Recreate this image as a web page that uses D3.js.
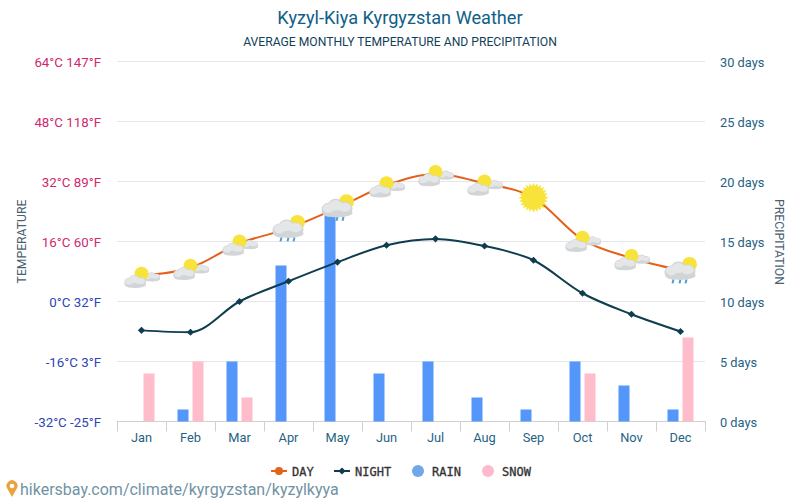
<!DOCTYPE html>
<html>
<head>
<meta charset="utf-8">
<script src="https://cdn.jsdelivr.net/npm/d3@7"></script>
<style>
  html, body { margin: 0; padding: 0; background: #fff; }
  svg { display: block; font-family: Roboto, sans-serif; }
</style>
</head>
<body>
<svg id="chart" width="800" height="500"></svg>
<script>
const months = ['Jan', 'Feb', 'Mar', 'Apr', 'May', 'Jun', 'Jul', 'Aug', 'Sep', 'Oct', 'Nov', 'Dec'];
const dayTemp = [6.9, 9, 15.5, 19.5, 25, 31, 34, 31.5, 27.7, 16.5, 11.6, 8.3];
const nightTemp = [-7.7, -8.2, 0, 5.4, 10.5, 15, 16.7, 14.8, 11, 2.2, -3.4, -8];
const rainDays = [0, 1, 5, 13, 18, 4, 5, 2, 1, 5, 3, 1];
const snowDays = [4, 5, 2, 0, 0, 0, 0, 0, 0, 4, 0, 7];
const icons = ['partly', 'partly', 'partly', 'rain', 'rain', 'partly', 'partly', 'partly', 'sun', 'partly', 'partly', 'rain'];
const tempTicks = [-32, -16, 0, 16, 32, 48, 64];
const tempLabels = ['-32°C -25°F', '-16°C 3°F', '0°C 32°F', '16°C 60°F', '32°C 89°F', '48°C 118°F', '64°C 147°F'];
const dayTicks = [0, 5, 10, 15, 20, 25, 30];
const legendItems = ['DAY', 'NIGHT', 'RAIN', 'SNOW'];

const svg = d3.select('#chart');
const plotLeft = 117, plotRight = 705, plotTop = 61.5, plotBottom = 421.5;

const x = d3.scaleBand().domain(months).range([plotLeft, plotRight]);
const yTemp = d3.scaleLinear().domain([-32, 64]).range([plotBottom, plotTop]);
const yDays = d3.scaleLinear().domain([0, 30]).range([plotBottom, plotTop]);

// titles
svg.append('text').attr('x', 400).attr('y', 23.5).attr('text-anchor', 'middle')
  .attr('font-size', 18.15).attr('fill', '#0f6088').text('Kyzyl-Kiya Kyrgyzstan Weather');
svg.append('text').attr('x', 400).attr('y', 46).attr('text-anchor', 'middle')
  .attr('font-size', 12.15).attr('fill', '#123f5a').text('AVERAGE MONTHLY TEMPERATURE AND PRECIPITATION');

// grid
svg.append('g').selectAll('line').data(dayTicks.slice(1)).join('line')
  .attr('x1', plotLeft).attr('x2', plotRight)
  .attr('y1', d => yDays(d)).attr('y2', d => yDays(d))
  .attr('stroke', '#e6e6e6');

// axes
const leftAxis = svg.append('g').attr('transform', `translate(${plotLeft},0.5)`)
  .call(d3.axisLeft(yTemp).tickValues(tempTicks).tickSize(0).tickPadding(16)
    .tickFormat((d, i) => tempLabels[i]));
leftAxis.select('.domain').remove();
leftAxis.selectAll('text')
  .attr('font-family', 'Roboto, sans-serif').attr('font-size', 13.3)
  .attr('fill', d => d > 0 ? '#d0286f' : '#2f45b5');

const rightAxis = svg.append('g').attr('transform', `translate(${plotRight},0.5)`)
  .call(d3.axisRight(yDays).tickValues(dayTicks).tickSize(0).tickPadding(15)
    .tickFormat(d => d + ' days'));
rightAxis.select('.domain').remove();
rightAxis.selectAll('text')
  .attr('font-family', 'Roboto, sans-serif').attr('font-size', 12.8).attr('fill', '#1f6284');

const bottomAxis = svg.append('g').attr('transform', `translate(0,${plotBottom + 1})`)
  .call(d3.axisBottom(x).tickSize(0).tickPadding(10));
bottomAxis.select('.domain').remove();
bottomAxis.selectAll('text')
  .attr('font-family', 'Roboto, sans-serif').attr('font-size', 12.8).attr('fill', '#1f6284');

// month separators
const edges = months.map(m => x(m)).concat(plotRight);
svg.append('g').selectAll('line').data(edges).join('line')
  .attr('x1', d => d + 0.5).attr('x2', d => d + 0.5)
  .attr('y1', plotBottom).attr('y2', plotBottom + 10).attr('stroke', '#d0d0d0');
svg.append('line').attr('x1', plotLeft).attr('x2', plotRight + 1)
  .attr('y1', plotBottom).attr('y2', plotBottom).attr('stroke', '#d0d0d0');

// axis titles
svg.append('text').attr('transform', 'translate(25.5,241.5) rotate(-90)').attr('text-anchor', 'middle')
  .attr('font-size', 12.2).attr('fill', '#4a5f70').text('TEMPERATURE');
svg.append('text').attr('transform', 'translate(774.5,242) rotate(90)').attr('text-anchor', 'middle')
  .attr('font-size', 12.2).attr('fill', '#4a5f70').text('PRECIPITATION');

// bars
const barWidth = 11;
const bandMid = m => x(m) + x.bandwidth() / 2;
svg.append('g').selectAll('rect').data(months).join('rect')
  .attr('x', d => bandMid(d) - 13)
  .attr('y', (d, i) => yDays(rainDays[i]))
  .attr('width', barWidth)
  .attr('height', (d, i) => plotBottom - yDays(rainDays[i]))
  .attr('fill', '#5596fb');
svg.append('g').selectAll('rect').data(months).join('rect')
  .attr('x', d => bandMid(d) + 2)
  .attr('y', (d, i) => yDays(snowDays[i]))
  .attr('width', barWidth)
  .attr('height', (d, i) => plotBottom - yDays(snowDays[i]))
  .attr('fill', '#ffbccb');

// lines
const tempLine = d3.line()
  .x((d, i) => bandMid(months[i]))
  .y(d => yTemp(d))
  .curve(d3.curveMonotoneX);
svg.append('path').attr('d', tempLine(dayTemp)).attr('fill', 'none')
  .attr('stroke', '#e4611b').attr('stroke-width', 2);
svg.append('path').attr('d', tempLine(nightTemp)).attr('fill', 'none')
  .attr('stroke', '#0d3d4f').attr('stroke-width', 2);
const diamond = d3.symbol().type(d3.symbolSquare).size(26);
svg.append('g').selectAll('path').data(nightTemp).join('path')
  .attr('d', diamond)
  .attr('transform', (d, i) => `translate(${bandMid(months[i])},${yTemp(d)}) rotate(45)`)
  .attr('fill', '#0d3d4f');

// weather icons on day points
function cloud(g, cx, cy, s) {
  const puffs = [[-9, 0, 7, 7], [-2, -3, 8, 8], [7, -1, 8, 7], [0, 3, 15, 4.5]];
  g.selectAll(null).data(puffs).join('ellipse')
    .attr('cx', p => cx + p[0] * s).attr('cy', p => cy + p[1] * s)
    .attr('rx', p => p[2] * s).attr('ry', p => p[3] * s)
    .attr('fill', '#d2d5d7');
  g.selectAll(null).data(puffs.slice(0, 3)).join('ellipse')
    .attr('cx', p => cx + p[0] * s).attr('cy', p => cy + (p[1] - 1.5) * s)
    .attr('rx', p => p[2] * s * 0.8).attr('ry', p => p[3] * s * 0.65)
    .attr('fill', '#e4e6e7');
}
function sunDisc(g, cx, cy, r) {
  g.append('circle').attr('cx', cx).attr('cy', cy).attr('r', r).attr('fill', '#f7e33a');
}
const iconG = svg.append('g');
icons.forEach((kind, i) => {
  const px = bandMid(months[i]), py = yTemp(dayTemp[i]);
  const g = iconG.append('g');
  if (kind === 'sun') {
    const rays = d3.range(48).map(k => [k * Math.PI / 24, k % 2 ? 11.5 : 15]);
    g.append('path')
      .attr('d', d3.lineRadial().curve(d3.curveLinearClosed)(rays))
      .attr('transform', `translate(${px},${py})`)
      .attr('fill', '#f7e33a');
  } else if (kind === 'partly') {
    cloud(g, px + 11, py + 2, 0.5);
    sunDisc(g, px, py - 2, 7);
    cloud(g, px - 6, py + 7, 0.7);
  } else {
    sunDisc(g, px + 9, py - 6, 7.5);
    const drops = [-7, 0, 6];
    g.selectAll('line').data(drops).join('line')
      .attr('x1', d => px + d).attr('x2', d => px + d - 1)
      .attr('y1', py + 9).attr('y2', py + 13)
      .attr('stroke', '#4f9fd0').attr('stroke-width', 2);
    cloud(g, px, py + 2, 1);
  }
});

// legend
const legend = svg.append('g').attr('font-family', "'DejaVu Sans Mono', monospace")
  .attr('font-size', 12).attr('fill', '#333').attr('stroke', '#333').attr('stroke-width', 0.3);
const legendX = [292, 355, 432, 502];
legend.selectAll('text').data(legendItems).join('text')
  .attr('x', (d, i) => legendX[i]).attr('y', 475.5)
  .text(d => d);
legend.append('line').attr('x1', 271).attr('x2', 287).attr('y1', 471).attr('y2', 471)
  .attr('stroke', '#e4611b').attr('stroke-width', 2);
legend.append('circle').attr('cx', 279).attr('cy', 471).attr('r', 4).attr('fill', '#e4611b').attr('stroke', 'none');
legend.append('line').attr('x1', 334).attr('x2', 350).attr('y1', 471).attr('y2', 471)
  .attr('stroke', '#0d3d4f').attr('stroke-width', 2);
legend.append('path').attr('d', diamond).attr('transform', 'translate(342,471) rotate(45)').attr('fill', '#0d3d4f').attr('stroke', 'none');
legend.append('circle').attr('cx', 418).attr('cy', 471).attr('r', 6).attr('fill', '#6ea8ea').attr('stroke', 'none');
legend.append('circle').attr('cx', 488).attr('cy', 471).attr('r', 6).attr('fill', '#ffb9cc').attr('stroke', 'none');

// watermark
svg.append('path')
  .attr('d', 'M12 497 L7.5 489 A5.5 5.5 0 1 1 16.5 489 Z')
  .attr('fill', '#e8a33d');
svg.append('circle').attr('cx', 12).attr('cy', 486).attr('r', 2.3).attr('fill', '#fff');
svg.append('text').attr('x', 20).attr('y', 495).attr('font-size', 16).attr('fill', '#6f93a5')
  .text('hikersbay.com/climate/kyrgyzstan/kyzylkyya');
</script>
</body>
</html>
